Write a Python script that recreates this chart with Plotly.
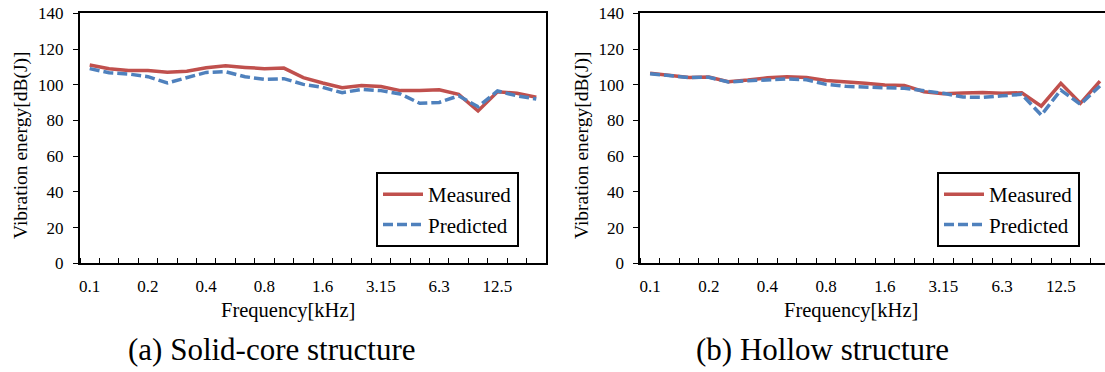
import plotly.graph_objects as go

# 1/3-octave band centre frequencies [kHz]
bands = ["0.1", "0.125", "0.16", "0.2", "0.25", "0.315", "0.4", "0.5", "0.63", "0.8",
         "1", "1.25", "1.6", "2", "2.5", "3.15", "4", "5", "6.3", "8", "10", "12.5", "16", "20"]
tick_labels = ["0.1", "0.2", "0.4", "0.8", "1.6", "3.15", "6.3", "12.5"]

# (a) Solid-core structure
measured_a = [111, 109, 108, 108, 107, 107.5, 109.5, 110.6, 109.7, 109, 109.3, 104,
              101, 98.3, 99.5, 99, 96.7, 96.7, 97.2, 94.6, 85.3, 96.1, 95.2, 93]
predicted_a = [109, 106.7, 106, 104.5, 101, 104, 106.9, 107.3, 104.5, 103, 103.4, 100.2,
               98.5, 95.5, 97.4, 96.7, 94.8, 89.6, 90.1, 93.8, 87.7, 96.5, 93.8, 92]

# (b) Hollow structure
measured_b = [106.4, 105.4, 104.1, 104.3, 101.7, 102.6, 103.9, 104.5, 104, 102.4, 101.7, 100.8,
              99.8, 99.6, 96.1, 95, 95.3, 95.7, 95.2, 95.5, 88, 100.8, 89.6, 102]
predicted_b = [106.2, 105.2, 104, 104.2, 101.5, 102.2, 102.8, 103.2, 102.8, 100.2, 99.1, 98.5,
               98.3, 98, 96.6, 95.2, 93.1, 92.9, 93.8, 94.6, 83, 97, 89, 99.3]

W, H = 1105, 372
FONT = "Liberation Serif"
RED = "#C0504D"
BLUE = "#4F81BD"

x_idx = list(range(len(bands)))
tick_idx = [bands.index(t) for t in tick_labels]

fig = go.Figure()

def add_pair(meas, pred, xa, ya, leg):
    fig.add_trace(go.Scatter(x=x_idx, y=meas, mode="lines", name="Measured",
                             line=dict(color=RED, width=3.5), xaxis=xa, yaxis=ya,
                             legend=leg, customdata=bands))
    fig.add_trace(go.Scatter(x=x_idx, y=pred, mode="lines", name="Predicted",
                             line=dict(color=BLUE, width=3.5, dash="10px,4px"), xaxis=xa, yaxis=ya,
                             legend=leg, customdata=bands))

add_pair(measured_a, predicted_a, "x", "y", "legend")
add_pair(measured_b, predicted_b, "x2", "y2", "legend2")

def px_x(p):
    return p / W

def px_y(p):
    return 1 - p / H

ydom = [px_y(263.3), px_y(13.3)]

xcommon = dict(
    showline=True, linecolor="black", linewidth=2,
    tickmode="array", tickvals=tick_idx, ticktext=tick_labels, ticks="",
    tickfont=dict(family=FONT, size=17, color="black"),
    ticklabelstandoff=6,
    minor=dict(tick0=-0.5, dtick=1, ticks="inside", ticklen=5, tickcolor="black", tickwidth=1.3),
    showgrid=False, zeroline=False, fixedrange=True, automargin=False,
)
ycommon = dict(
    showline=True, linecolor="black", linewidth=2,
    range=[0, 140], dtick=20, ticks="outside", ticklen=5, tickcolor="black", tickwidth=1.3,
    tickfont=dict(family=FONT, size=17, color="black"),
    ticklabelstandoff=6, automargin=False,
    showgrid=False, zeroline=False, domain=ydom,
)

bw = 19.56
right_b = -0.5 + (W - 640.3) / bw

legend_common = dict(xanchor="left", yanchor="top", bgcolor="white", bordercolor="black",
                     borderwidth=2, itemwidth=40, font=dict(family=FONT, size=21, color="black"))

fig.update_layout(
    width=W, height=H,
    margin=dict(l=0, r=0, t=0, b=0, pad=0),
    paper_bgcolor="white", plot_bgcolor="white",
    font=dict(family=FONT, color="black"),
    xaxis=dict(domain=[px_x(80), px_x(546)], range=[-0.5, 23.5], mirror=True, anchor="y", **xcommon),
    yaxis=dict(anchor="x", mirror=True, **ycommon),
    xaxis2=dict(domain=[px_x(640.3), 1.0], range=[-0.5, right_b], mirror=True, anchor="y2", **xcommon),
    yaxis2=dict(anchor="x2", mirror=False, **ycommon),
    legend=dict(x=px_x(376), y=px_y(172), **legend_common),
    legend2=dict(x=px_x(937), y=px_y(172), **legend_common),
    showlegend=True,
)

def ann(text, xp, yp, size, angle=0):
    fig.add_annotation(text=text, x=px_x(xp), y=px_y(yp), xref="paper", yref="paper",
                       xanchor="center", yanchor="middle", showarrow=False, textangle=angle,
                       font=dict(family=FONT, size=size, color="black"))

ann("Vibration energy[dB(J)]", 21, 146, 19.5, -90)
ann("Vibration energy[dB(J)]", 582, 146, 19.5, -90)
ann("Frequency[kHz]", 288, 310, 20.5)
ann("Frequency[kHz]", 851, 310, 20.5)
ann("(a) Solid-core structure", 272, 349, 31)
ann("(b) Hollow structure", 822, 349, 31)

fig.write_html("out.html", config={"displayModeBar": False},
               post_script="document.body.style.margin='0';document.body.style.overflow='hidden';")
